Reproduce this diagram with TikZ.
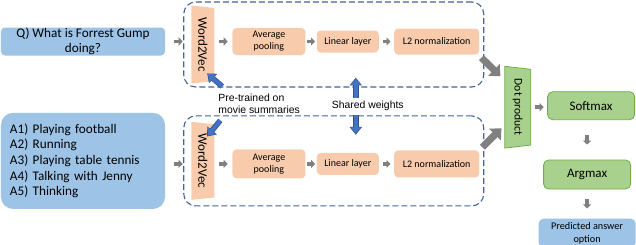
\documentclass[tikz,border=0pt]{standalone}
\usepackage{fontspec}
\setmainfont{Carlito}
\newfontfamily\notefont{Liberation Sans}
\usetikzlibrary{arrows.meta, calc, positioning, shapes.geometric}
\definecolor{qblue}{RGB}{157,195,230}
\definecolor{peach}{RGB}{248,203,173}
\definecolor{leaf}{RGB}{169,209,142}
\definecolor{leafdark}{RGB}{112,173,71}
\definecolor{dashblue}{RGB}{68,100,150}
\definecolor{wblue}{RGB}{68,114,196}
\definecolor{wbluedark}{RGB}{47,82,143}
\definecolor{arrgray}{RGB}{128,128,128}
\newcommand{\fsz}[2]{\fontsize{#1bp}{#2bp}\selectfont}

\begin{document}
\begin{tikzpicture}[
    x=1bp, y=1bp,
    every node/.style={font=\fsz{10}{12}},
    inbox/.style  ={fill=qblue, rounded corners=4bp, minimum width=164bp,
                    inner ysep=0.5bp, font=\fsz{13.2}{14.5}},
    group/.style  ={draw=dashblue, line width=1.1bp, dash pattern=on 6bp off 3bp,
                    rounded corners=12bp, minimum width=300bp},
    slab/.style   ={trapezium, trapezium stretches=true, rotate=-90, inner sep=0pt},
    w2v/.style    ={slab, trapezium angle=79, fill=peach, minimum width=78bp,
                    minimum height=23bp, font=\fsz{13}{15}},
    dotp/.style   ={slab, trapezium angle=77, fill=leaf, draw=leafdark, line width=0.8bp,
                    minimum width=82bp, minimum height=26bp, font=\fsz{11.6}{14}},
    stage/.style  ={fill=peach, rounded corners=4bp, align=center, inner sep=1bp},
    outcome/.style={fill=leaf, draw=leafdark, line width=0.8bp, rounded corners=5bp,
                    minimum width=87bp, inner ysep=2bp, font=\fsz{13}{15}},
    note/.style   ={font=\notefont\fsz{10.4}{12}, align=left, inner sep=0pt},
    nudge/.style  ={line width=3.5bp, arrgray, -{Triangle[length=4bp, width=8bp]},
                    shorten <=#1, shorten >=#1},
    bulk/.style   ={line width=7bp, arrgray, -{Triangle[length=9bp, width=16bp]}},
    blink/.style  ={line width=3.8bp, wblue, -{Triangle[length=6.5bp, width=10bp]},
                    shorten >=0.9bp,
                    preaction={draw=wbluedark, line width=5.4bp, shorten >=0pt,
                               -{Triangle[length=7.8bp, width=12bp]}}},
]
\useasboundingbox (0,0) rectangle (636,-244);
% inputs
\node[inbox, minimum height=28bp, align=center] (q) at (83,-41.5)
   {Q) What is Forrest Gump\\doing?};
\node[inbox, below=57bp of q, rounded corners=12bp, minimum height=96bp,
      text width=146bp, inner xsep=9bp, align=left, font=\fsz{13.2}{15.7}] (ans)
   {A1) Playing football\\A2) Running\\A3) Playing table tennis\\
    A4) Talking with Jenny\\A5) Thinking};
% the two encoders
\node[group, right=18bp of q, yshift=-3bp, minimum height=85bp] (encq) {};
\node[group, right=18bp of ans, minimum height=90bp] (enca) {};
\node[w2v, anchor=south] (w2vq) at ([xshift=8bp]encq.west) {Word2Vec};
\node[w2v, anchor=south] (w2va) at ([xshift=8bp]enca.west) {Word2Vec};
\node[stage, right=67bp of q, minimum width=73bp, minimum height=27bp] (avgq)
   {Average\\pooling};
\node[stage, right=11bp of avgq, minimum width=62bp, minimum height=22bp] (linq)
   {Linear layer};
\node[stage, right=15bp of linq, minimum width=85bp, minimum height=26bp] (l2q)
   {L2 normalization};
\node[stage, right=67bp of ans, yshift=-3bp, minimum width=73bp, minimum height=29bp] (avga)
   {Average\\pooling};
\node[stage, right=11bp of avga, minimum width=62bp, minimum height=22bp] (lina)
   {Linear layer};
\node[stage, right=15bp of lina, minimum width=85bp, minimum height=27bp] (l2a)
   {L2 normalization};
\node[note, anchor=west] (pretrain)
   at ($(encq.south west)!0.5!(enca.north west)+(35bp,-2bp)$)
   {Pre-trained on\\movie summaries};
\node[note] (shared) at ($(linq.south)!0.5!(lina.north)+(20bp,-3bp)$) {Shared weights};
% scoring
\node[dotp, anchor=south] (dot) at ($(l2q.east)!0.5!(l2a.east)+(25bp,-4.5bp)$)
   {Dot product};
\node[outcome, right=16bp of dot.north, yshift=1.5bp, minimum height=28bp] (soft) {Softmax};
\node[outcome, below=39.5bp of soft, xshift=-4bp, minimum height=29bp] (argmax) {Argmax};
\node[inbox, below=29bp of argmax, minimum width=97bp, minimum height=29bp, inner ysep=2bp,
      rounded corners=5bp, align=center, font=\fsz{10.2}{12.5}] (pred)
   {Predicted answer\\option};
\draw[nudge=8.5bp] (q.east) -- (q.east -| w2vq.south);
\draw[nudge=4.5bp] (w2vq.north |- avgq.west) -- (avgq.west);
\draw[nudge=1.5bp] (avgq) -- (linq);
\draw[nudge=3.5bp] (linq) -- (l2q);
\draw[nudge=8.5bp] (ans.east |- avga.west) -- (w2va.south |- avga.west);
\draw[nudge=4.5bp] (w2va.north |- avga.west) -- (avga.west);
\draw[nudge=1.5bp] (avga) -- (lina);
\draw[nudge=3.5bp] (lina) -- (l2a);
\draw[bulk] ([shift={(2bp,-3bp)}]l2q.south east) -- ($(dot.south)+(-4bp,31bp)$);
\draw[bulk] ([shift={(3bp,3bp)}]l2a.north east) -- ($(dot.south)+(-3bp,-21bp)$);
\draw[nudge=3.5bp] (dot.north) -- (dot.north -| soft.west);
\draw[nudge=15bp] (argmax.north |- soft.south) -- (argmax.north);
\draw[nudge=10bp] (argmax) -- (pred);
% blue pointers to the shared parts
\draw[blink] ([shift={(4bp,7bp)}]pretrain.north west) -- ++(-15bp,13bp);
\draw[blink] ([shift={(2bp,-7bp)}]pretrain.south west) -- ++(-13bp,-16bp);
\draw[blink] ([shift={(-12bp,3bp)}]shared.north) -- ++(0,20bp);
\draw[blink] ([shift={(-12bp,-4bp)}]shared.south) -- ++(0,-20bp);
\end{tikzpicture}
\end{document}
